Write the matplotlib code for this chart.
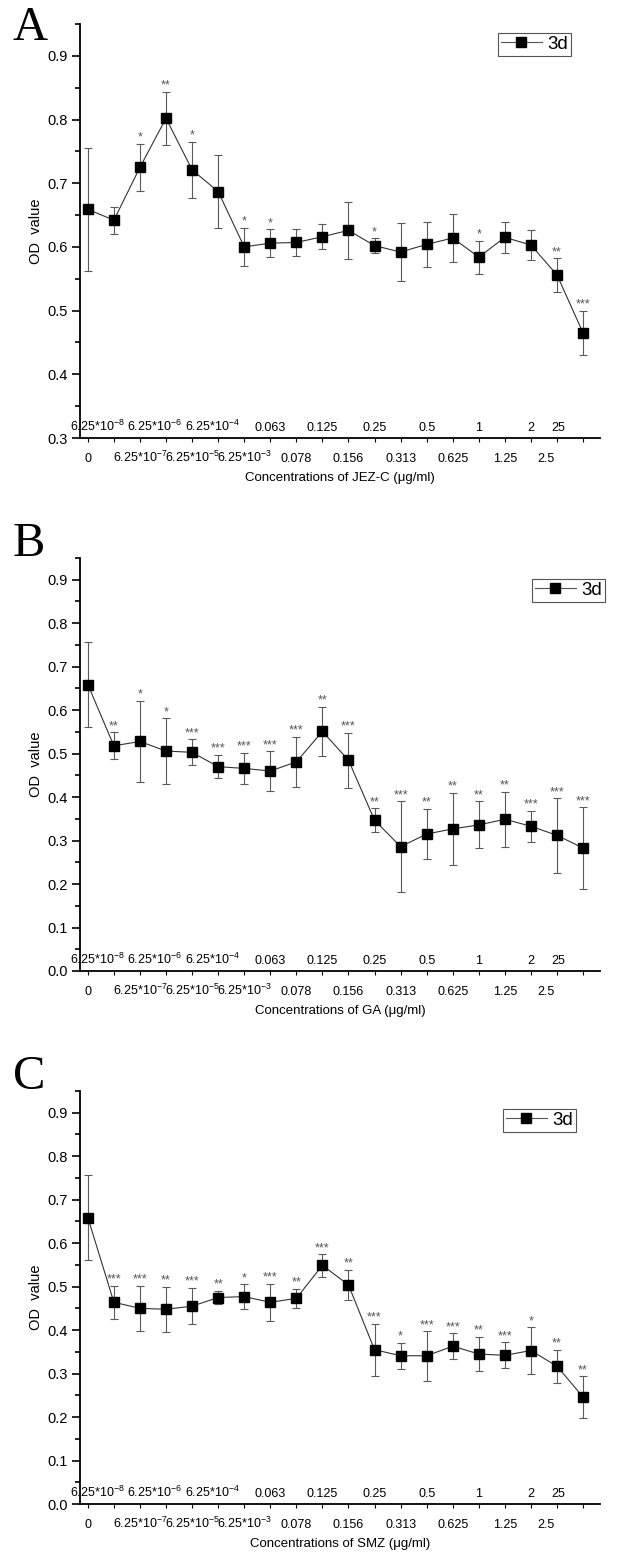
import matplotlib.pyplot as plt
from matplotlib.lines import Line2D
from matplotlib.ticker import MultipleLocator, FormatStrFormatter

plt.rcParams['font.family'] = ['Liberation Sans', 'DejaVu Sans']
plt.rcParams['mathtext.default'] = 'regular'

# x categories (concentrations, ug/ml)
conc_labels = ['0', '6.25*10$^{-8}$', '6.25*10$^{-7}$', '6.25*10$^{-6}$', '6.25*10$^{-5}$',
               '6.25*10$^{-4}$', '6.25*10$^{-3}$', '0.063', '0.078', '0.125', '0.156', '0.25',
               '0.313', '0.5', '0.625', '1', '1.25', '2', '2.5', '25']

# panel A: JEZ-C
jezc_od = [0.659, 0.642, 0.725, 0.802, 0.721, 0.687, 0.600, 0.606, 0.607, 0.616,
           0.626, 0.602, 0.592, 0.604, 0.614, 0.584, 0.615, 0.603, 0.556, 0.465]
jezc_err = [0.097, 0.021, 0.037, 0.042, 0.044, 0.058, 0.030, 0.022, 0.021, 0.020,
            0.045, 0.012, 0.046, 0.035, 0.037, 0.026, 0.024, 0.024, 0.026, 0.035]
jezc_sig = ['', '', '*', '**', '*', '', '*', '*', '', '', '', '*', '', '', '', '*',
            '', '', '**', '***']

# panel B: GA
ga_od = [0.659, 0.518, 0.528, 0.506, 0.503, 0.470, 0.466, 0.460, 0.481, 0.551,
         0.485, 0.347, 0.286, 0.315, 0.327, 0.336, 0.349, 0.333, 0.312, 0.283]
ga_err = [0.097, 0.031, 0.094, 0.076, 0.030, 0.027, 0.036, 0.046, 0.058, 0.057,
          0.063, 0.028, 0.104, 0.058, 0.083, 0.054, 0.063, 0.036, 0.086, 0.094]
ga_sig = ['', '**', '*', '*', '***', '***', '***', '***', '***', '**', '***', '**',
          '***', '**', '**', '**', '**', '***', '***', '***']

# panel C: SMZ
smz_od = [0.659, 0.464, 0.450, 0.448, 0.455, 0.475, 0.477, 0.464, 0.473, 0.549,
          0.504, 0.355, 0.341, 0.341, 0.363, 0.345, 0.342, 0.353, 0.317, 0.246]
smz_err = [0.097, 0.038, 0.052, 0.052, 0.042, 0.016, 0.028, 0.043, 0.022, 0.026,
           0.035, 0.060, 0.030, 0.057, 0.030, 0.040, 0.030, 0.054, 0.038, 0.048]
smz_sig = ['', '***', '***', '**', '***', '**', '*', '***', '**', '***', '**', '***',
           '*', '***', '***', '**', '***', '*', '**', '**']

W, H = 629, 1560
fig = plt.figure(figsize=(W / 100, H / 100), dpi=100)


def px_axes(left, top, right, bottom):
    return fig.add_axes([left / W, 1 - bottom / H, (right - left) / W, (bottom - top) / H])


panels = [
    # letter, values, errors, stars, ymin, drug, axes box (px), legend pos (px), letter baseline
    ('A', jezc_od, jezc_err, jezc_sig, 0.3, 'JEZ-C', (80, 24, 600, 438), (498, 33), 40),
    ('B', ga_od, ga_err, ga_sig, 0.0, 'GA', (80, 558, 600, 971), (532, 579), 556),
    ('C', smz_od, smz_err, smz_sig, 0.0, 'SMZ', (80, 1091, 600, 1504), (503, 1109), 1089),
]

# Origin squeezed the tick labels sideways a bit; horizontal nudge in points
label_nudge = {1: -12, 3: -8, 5: -4, 18: -8, 19: -18}

x = list(range(len(conc_labels)))

for letter, od, err, sig, ymin, drug, box, leg_xy, base in panels:
    ax = px_axes(*box)
    ax.errorbar(x, od, yerr=err, fmt='none', ecolor='#5a5a5a', elinewidth=0.8,
                capsize=3.2, capthick=0.8, zorder=2)
    ax.plot(x, od, color='#333333', lw=0.8, marker='s', markersize=7.5,
            markerfacecolor='black', markeredgecolor='black', zorder=3)
    for xi, yi, ei, s in zip(x, od, err, sig):
        if s:
            ax.annotate(s, xy=(xi, yi + ei), xytext=(0, 0), textcoords='offset points',
                        ha='center', va='bottom', fontsize=9, color='#555555')

    ax.set_xlim(-0.3, 19.65)
    ax.set_ylim(ymin, 0.95)
    ax.yaxis.set_major_locator(MultipleLocator(0.1))
    ax.yaxis.set_minor_locator(MultipleLocator(0.05))
    ax.yaxis.set_major_formatter(FormatStrFormatter('%.1f'))
    ax.tick_params(axis='y', which='major', direction='out', length=6, width=1.2,
                   labelsize=10.5, pad=3)
    ax.tick_params(axis='y', which='minor', direction='out', length=3.5, width=1.2)
    ax.set_xticks(x)
    ax.tick_params(axis='x', direction='out', length=3, width=0.8, labelbottom=False)
    for side in ('top', 'right'):
        ax.spines[side].set_visible(False)
    for side in ('left', 'bottom'):
        ax.spines[side].set_linewidth(1.3)

    # staggered concentration labels: odd ones inside the axes, even ones below it
    for i, lab in enumerate(conc_labels):
        dy = 5 if i % 2 else -17
        ax.annotate(lab, xy=(i, 0), xycoords=('data', 'axes fraction'),
                    xytext=(label_nudge.get(i, 0), dy), textcoords='offset points',
                    ha='center', va='baseline', fontsize=9)

    ax.annotate('Concentrations of %s (\u03bcg/ml)' % drug, xy=(0.5, 0),
                xycoords='axes fraction', xytext=(0, -29), textcoords='offset points',
                ha='center', va='center', fontsize=9.5)
    ax.set_ylabel('OD  value', fontsize=10.5, labelpad=3)

    handle = Line2D([], [], color='#555555', lw=0.8, marker='s', markersize=7,
                    markerfacecolor='black', markeredgecolor='black')
    ax.legend([handle], ['3d'], loc='upper left',
              bbox_to_anchor=(leg_xy[0] / W, 1 - leg_xy[1] / H), bbox_transform=fig.transFigure,
              fontsize=13.5, frameon=True, fancybox=False, edgecolor='#555555',
              framealpha=1, borderpad=0.15, handlelength=2.2, handletextpad=0.3,
              borderaxespad=0)
    ax.get_legend().get_frame().set_linewidth(0.8)

    fig.text(13 / W, 1 - base / H, letter, family=['Liberation Serif', 'DejaVu Serif'],
             fontsize=35, va='baseline', ha='left')

fig.savefig('out.png', dpi=100)
